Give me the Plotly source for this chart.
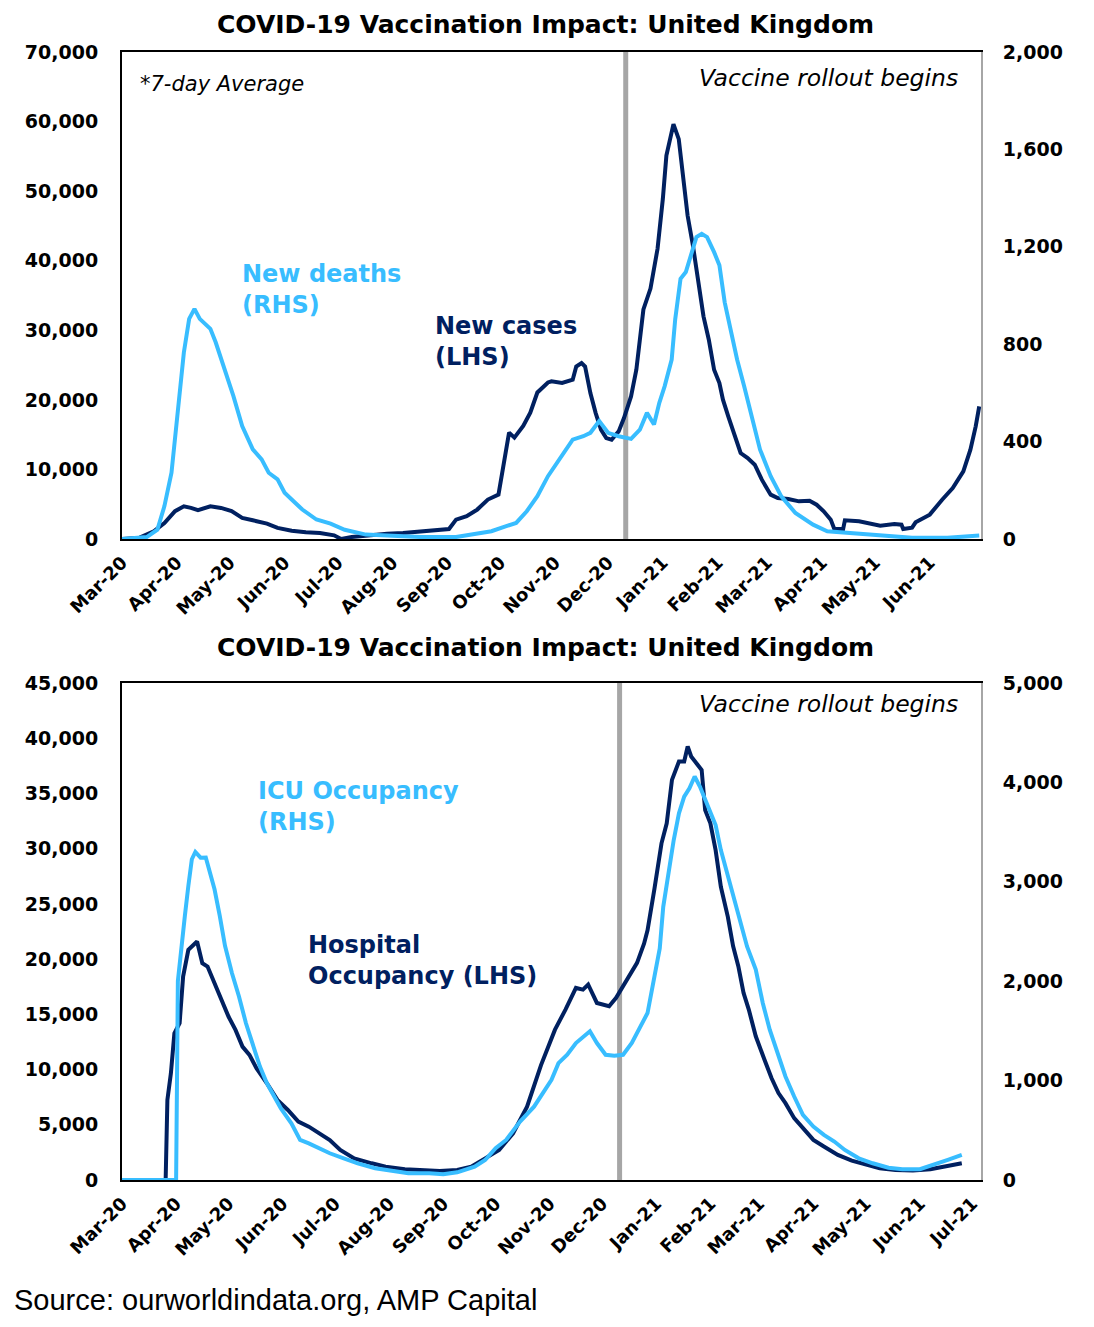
import pandas as pd
import plotly.graph_objects as go

# day offsets are counted from 1 Mar 2020
BASE = pd.Timestamp("2020-03-01")

# --- top chart: new cases (LHS) / new deaths (RHS), 7-day average ---
cases_day = [0, 10, 18, 24, 30, 35, 39, 43, 50, 56, 62, 68, 74, 82, 88, 96, 104, 112, 120, 124,
             130, 140, 150, 159, 169, 179, 185, 189, 195, 201, 207, 213, 216, 219, 222, 227, 231,
             235, 241, 243, 249, 255, 257, 260, 262, 265, 268, 271, 274, 277, 281, 284, 288, 291,
             295, 299, 303, 306, 308, 310, 312, 315, 317, 320, 323, 326, 329, 332, 335, 338, 340,
             343, 346, 350, 354, 358, 362, 367, 371, 377, 383, 389, 393, 397, 401, 403, 408, 409,
             417, 429, 437, 441, 442, 447, 449, 457, 464, 470, 476, 480, 483, 485]
cases_val = [0, 190, 1100, 2300, 4000, 4700, 4470, 4130, 4700, 4470, 4000, 3030, 2690, 2210, 1590,
             1200, 960, 865, 530, 0, 290, 577, 770, 865, 1060, 1200, 1440, 2790, 3270, 4230, 5670,
             6390, 10480, 15290, 14570, 16250, 18170, 21060, 22500, 22660, 22420, 22900, 24800,
             25290, 24800, 20980, 18100, 15710, 14510, 14270, 15470, 17390, 20500, 24330, 33000,
             35990, 41720, 48900, 55100, 57480, 59630, 57480, 53200, 46500, 42200, 36930, 32000,
             28640, 24330, 22420, 20020, 17630, 15230, 12360, 11640, 10680, 8530, 6370, 5890, 5750,
             5410, 5510, 4930, 3980, 2780, 1440, 1440, 2680, 2540, 1920, 2160, 2060, 1440, 1630,
             2400, 3500, 5650, 7330, 9720, 12840, 16190, 19060]

deaths_day = [0, 14, 20, 24, 28, 32, 35, 38, 41, 44, 47, 50, 53, 58, 63, 68, 74, 79, 83, 88, 92,
              96, 102, 110, 118, 126, 138, 150, 169, 189, 199, 209, 217, 223, 229, 235, 241, 249,
              255, 261, 265, 270, 275, 281, 288, 293, 297, 301, 304, 307, 311, 313, 316, 319, 322,
              325, 328, 331, 335, 338, 341, 344, 348, 352, 357, 361, 367, 373, 381, 391, 399, 411,
              427, 447, 467, 485]
deaths_val = [0, 8, 38, 135, 272, 574, 766, 904, 945, 904, 883, 863, 808, 698, 588, 464, 368, 327,
              272, 245, 190, 162, 121, 80, 63, 38, 18, 14, 8, 8, 18, 32, 52, 66, 114, 176, 258, 340,
              408, 422, 436, 484, 436, 422, 411, 449, 518, 470, 559, 627, 737, 903, 1069, 1096, 1164,
              1240, 1253, 1240, 1178, 1124, 972, 874, 737, 627, 477, 367, 258, 175, 107, 59, 32, 25,
              14, 5, 5, 14]

# --- bottom chart: hospital occupancy (LHS) / ICU occupancy (RHS) ---
hosp_day = [0, 25, 26, 28, 30, 33, 35, 38, 43, 46, 49, 53, 57, 61, 65, 69, 73, 77, 83, 89, 95, 101,
            107, 113, 119, 125, 133, 143, 151, 162, 172, 182, 192, 200, 208, 216, 224, 232, 240,
            248, 254, 260, 264, 267, 272, 276, 279, 283, 287, 292, 295, 299, 301, 305, 309, 312,
            315, 319, 322, 324, 326, 329, 332, 334, 337, 340, 343, 347, 350, 353, 356, 359, 363,
            368, 372, 376, 380, 385, 390, 396, 402, 410, 418, 426, 434, 443, 453, 463, 471, 481]
hosp_val = [0, 0, 7250, 9660, 13290, 14190, 18420, 20840, 21600, 19630, 19330, 17820, 16460, 14800,
            13590, 12080, 11330, 10120, 8760, 7250, 6340, 5290, 4830, 4230, 3620, 2720, 1960, 1510,
            1210, 970, 910, 815, 910, 1210, 1960, 2720, 4230, 6640, 10400, 13610, 15430, 17390,
            17240, 17700, 16030, 15880, 15730, 16490, 17550, 18760, 19660, 21400, 22610, 26400,
            30480, 32300, 36230, 37890, 37890, 39250, 38350, 37740, 37130, 33500, 32300, 29870,
            26550, 23830, 21180, 19360, 16940, 15430, 13010, 10890, 9230, 7870, 6960, 5600, 4690,
            3630, 3030, 2270, 1750, 1360, 1060, 910, 850, 970, 1210, 1510]

icu_day = [0, 31, 32, 34, 36, 38, 40, 42, 45, 48, 50, 53, 56, 59, 63, 67, 71, 75, 79, 83, 87, 91,
           97, 102, 107, 113, 119, 127, 135, 145, 156, 164, 176, 184, 192, 196, 202, 208, 214, 220,
           228, 236, 240, 246, 250, 255, 260, 265, 268, 272, 277, 282, 287, 292, 297, 301, 305,
           308, 310, 313, 316, 319, 322, 325, 328, 331, 334, 337, 340, 343, 346, 350, 354, 358,
           363, 367, 371, 375, 380, 385, 390, 396, 402, 408, 414, 422, 430, 439, 447, 457, 465,
           473, 481]
icu_val = [0, 0, 2000, 2356, 2656, 2959, 3227, 3300, 3243, 3245, 3126, 2925, 2658, 2356, 2080, 1846,
           1577, 1342, 1141, 973, 839, 721, 570, 403, 369, 319, 269, 218, 168, 118, 84, 67, 67, 57,
           77, 101, 134, 201, 319, 403, 587, 738, 840, 1008, 1176, 1260, 1378, 1445, 1496, 1378,
           1260, 1250, 1260, 1378, 1546, 1680, 2050, 2330, 2748, 3118, 3420, 3689, 3857, 3941,
           4059, 3958, 3824, 3689, 3571, 3319, 3118, 2849, 2580, 2350, 2117, 1781, 1512, 1311,
           1042, 840, 655, 538, 454, 387, 302, 218, 168, 124, 108, 108, 151, 202, 252]

TITLE = "COVID-19 Vaccination Impact: United Kingdom"
VACCINE_DATE = "2020-12-11"

NAVY = "#002060"
SKY = "#38BDFF"
GREY = "#A6A6A6"
FONT = "DejaVu Sans"

W, H = 1094, 1327
PAD = 8  # the page body margin shifts the figure by this many pixels


def dates(days):
    return BASE + pd.to_timedelta(days, unit="D")


def fx(x):
    return (x - PAD) / W


def fy(y):
    return 1 - (y - PAD) / H


fig = go.Figure()
fig.add_trace(go.Scatter(x=dates(cases_day), y=cases_val, mode="lines",
                         line=dict(color=NAVY, width=4), xaxis="x", yaxis="y"))
fig.add_trace(go.Scatter(x=dates(deaths_day), y=deaths_val, mode="lines",
                         line=dict(color=SKY, width=4), xaxis="x", yaxis="y2"))
fig.add_trace(go.Scatter(x=dates(icu_day), y=icu_val, mode="lines",
                         line=dict(color=SKY, width=4), xaxis="x2", yaxis="y4"))
fig.add_trace(go.Scatter(x=dates(hosp_day), y=hosp_val, mode="lines",
                         line=dict(color=NAVY, width=4), xaxis="x2", yaxis="y3"))

tickfont = dict(family=FONT, size=19, color="black", weight="bold")
xdom = [fx(122), fx(981)]


def xaxis_style(anchor, end):
    return dict(domain=xdom, anchor=anchor, type="date", range=["2020-03-01", end],
                tick0="2020-03-01", dtick="M1", tickformat="%b-%y", tickangle=-45,
                tickfont=dict(family=FONT, size=18, color="black", weight="bold"),
                showgrid=False, zeroline=False, showline=True, linecolor="black",
                linewidth=2, mirror=True, ticks="", ticklabelstandoff=4, automargin=False)


def yaxis_style(dom, rng, dtick, side="left", overlay=None, color="black"):
    d = dict(domain=dom, range=rng, dtick=dtick, tickformat=",", tickfont=tickfont,
             showgrid=False, zeroline=False, showline=True, linecolor=color,
             linewidth=2, ticks="", side=side, automargin=False,
             ticklabelstandoff=18 if side == "left" else 16)
    if overlay:
        d["overlaying"] = overlay
        d["anchor"] = "x" if overlay == "y" else "x2"
    else:
        d["anchor"] = "x" if dom[0] > 0.5 else "x2"
    return d


top = [fy(539), fy(52)]
bottom = [fy(1180), fy(683)]

fig.update_layout(
    width=W, height=H, margin=dict(l=0, r=0, t=0, b=0, autoexpand=False),
    paper_bgcolor="white", plot_bgcolor="white", showlegend=False,
    xaxis=xaxis_style("y", "2021-06-30"),
    xaxis2=xaxis_style("y3", "2021-07-06"),
    yaxis=yaxis_style(top, [0, 70000], 10000),
    yaxis2=yaxis_style(top, [0, 2000], 400, side="right", overlay="y", color=GREY),
    yaxis3=yaxis_style(bottom, [0, 45000], 5000),
    yaxis4=yaxis_style(bottom, [0, 5000], 1000, side="right", overlay="y3", color=GREY),
)

# vaccine rollout marker
for xr, yr in [("x", "y"), ("x2", "y3")]:
    fig.add_shape(type="line", xref=xr, yref=yr + " domain", x0=VACCINE_DATE, x1=VACCINE_DATE,
                  y0=0, y1=1, line=dict(color=GREY, width=5), layer="below")


def note(text, x, y, size, color="black", xanchor="left", bold=False, italic=False,
         family=FONT, yanchor="middle"):
    fig.add_annotation(text=text, x=fx(x), y=fy(y), xref="paper", yref="paper",
                       xanchor=xanchor, yanchor=yanchor, align="left", showarrow=False,
                       font=dict(family=family, size=size, color=color,
                                 weight="bold" if bold else "normal",
                                 style="italic" if italic else "normal"))


note(TITLE, 545, PAD, 25, xanchor="center", yanchor="top", bold=True)
note(TITLE, 545, 647, 25, xanchor="center", bold=True)
note("*7-day Average", 138, 84, 21, italic=True)
note("Vaccine rollout begins", 960, 78, 23.5, xanchor="right", italic=True)
note("Vaccine rollout begins", 960, 704, 23.5, xanchor="right", italic=True)
note("New deaths<br>(RHS)", 240, 290, 24, color=SKY, bold=True)
note("New cases<br>(LHS)", 433, 341, 24, color=NAVY, bold=True)
note("ICU Occupancy<br>(RHS)", 256, 806, 24, color=SKY, bold=True)
note("Hospital<br>Occupancy (LHS)", 306, 960, 24, color=NAVY, bold=True)
note("Source: ourworldindata.org, AMP Capital", 12, 1300, 29, family="Liberation Sans")

fig.write_html("out.html")
